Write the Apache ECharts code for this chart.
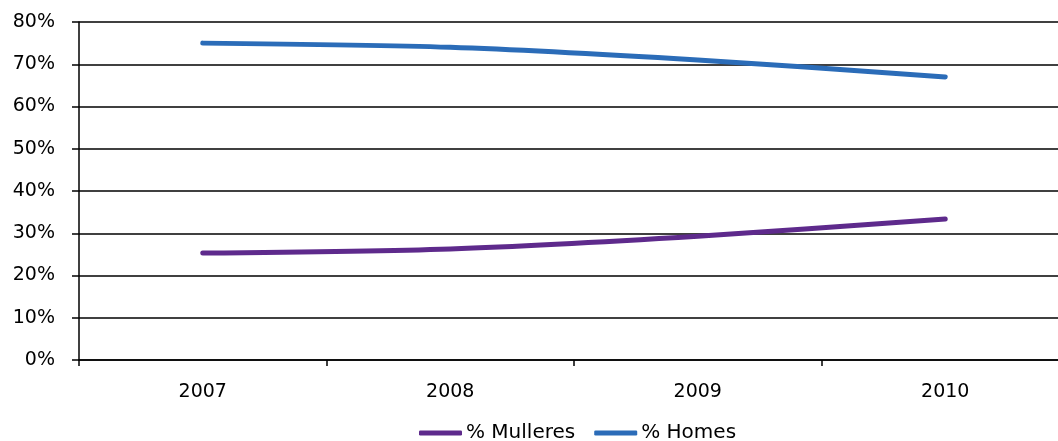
<!DOCTYPE html>
<html>
<head>
<meta charset="utf-8">
<script src="https://cdn.jsdelivr.net/npm/echarts@6/dist/echarts.min.js"></script>
<style>
html,body{margin:0;padding:0;background:#fff;}
#chart{width:1058px;height:441px;}
</style>
</head>
<body>
<div id="chart"></div>
<script>
var categories = ['2007', '2008', '2009', '2010'];
var mulleres = [25.3, 26.3, 29.3, 33.4];
var homes = [75.0, 74.0, 71.0, 67.0];
var seriesNames = ['% Mulleres', '% Homes'];

var chart = echarts.init(document.getElementById('chart'));
var font = 'DejaVu Sans';
chart.setOption({
  animation: false,
  backgroundColor: '#fff',
  grid: {left: 79, width: 990, top: 22, height: 338, outerBoundsMode: 'none', containLabel: false},
  legend: {
    data: seriesNames,
    top: 418,
    left: 414,
    itemWidth: 43,
    itemHeight: 5,
    itemGap: 19,
    icon: 'roundRect',
    textStyle: {fontFamily: font, fontSize: 20, color: '#000', padding: [0,0,0,-1]}
  },
  xAxis: {
    type: 'category',
    data: categories,
    boundaryGap: true,
    axisLine: {lineStyle: {color: '#000', width: 1.5}},
    axisTick: {show: true, length: 6, lineStyle: {color: '#000', width: 1.5}},
    axisLabel: {fontFamily: font, fontSize: 19, color: '#000', margin: 23},
    splitLine: {show: false}
  },
  yAxis: {
    type: 'value',
    min: 0, max: 80, interval: 10,
    axisLine: {show: true, lineStyle: {color: '#000', width: 1.5}},
    axisTick: {show: true, length: 7, lineStyle: {color: '#000', width: 1.5}},
    axisLabel: {fontFamily: font, fontSize: 19, color: '#000', formatter: '{value}%', margin: 24},
    splitLine: {show: true, lineStyle: {color: '#000', width: 1.5}}
  },
  series: [
    {name: seriesNames[0], type: 'line', data: mulleres, smooth: 0.3, symbol: 'none',
     lineStyle: {color: '#5E2A8C', width: 5, cap: 'round'}, itemStyle: {color: '#5E2A8C'}},
    {name: seriesNames[1], type: 'line', data: homes, smooth: 0.3, symbol: 'none',
     lineStyle: {color: '#2B6CB8', width: 5, cap: 'round'}, itemStyle: {color: '#2B6CB8'}}
  ]
});
</script>
</body>
</html>
